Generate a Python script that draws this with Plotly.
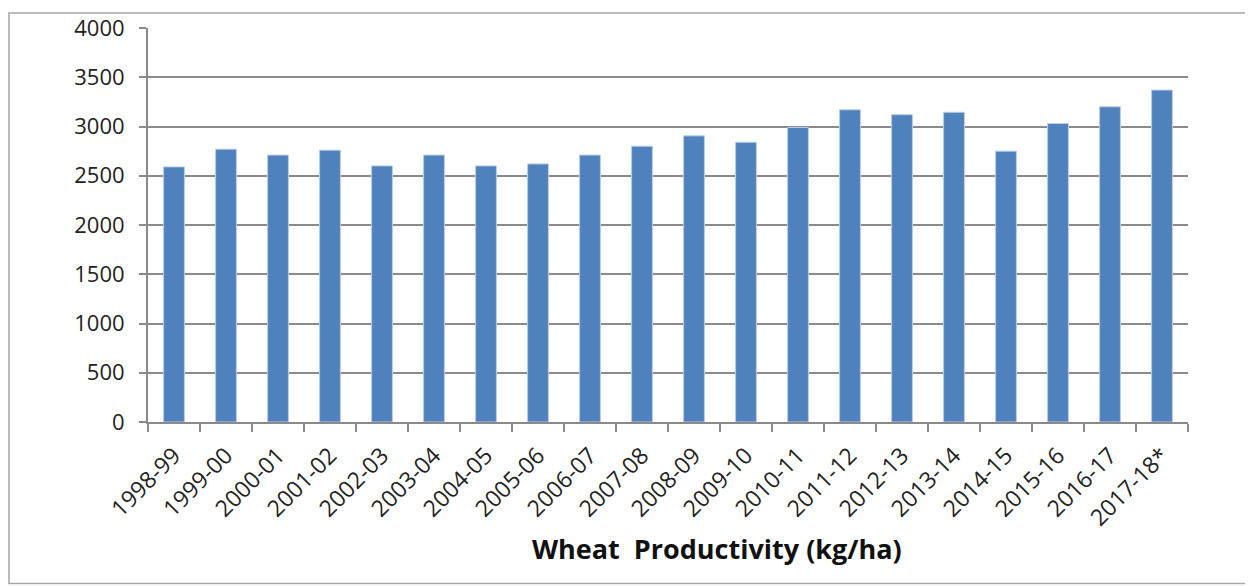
import plotly.graph_objects as go

years = ["1998-99", "1999-00", "2000-01", "2001-02", "2002-03", "2003-04", "2004-05",
         "2005-06", "2006-07", "2007-08", "2008-09", "2009-10", "2010-11", "2011-12",
         "2012-13", "2013-14", "2014-15", "2015-16", "2016-17", "2017-18*"]
productivity = [2590, 2770, 2710, 2760, 2600, 2710, 2600, 2620, 2710, 2800,
                2905, 2840, 2990, 3170, 3120, 3145, 2750, 3030, 3200, 3370]
y_ticks = [0, 500, 1000, 1500, 2000, 2500, 3000, 3500, 4000]

GRID = "#8a8a8a"
FONT = "Open Sans, Liberation Sans, sans-serif"

fig = go.Figure()
fig.add_trace(go.Bar(
    x=years, y=productivity,
    marker=dict(color="#4F81BD", line=dict(color="#B9CDE5", width=1)),
    hoverinfo="x+y"))

# outer chart-area border
fig.add_shape(type="rect", xref="paper", yref="paper",
              x0=-0.1337, x1=1.0577, y0=-0.41, y1=1.038,
              line=dict(color="#a6a6a6", width=1.5), layer="below")

fig.add_annotation(text="<b>Wheat  Productivity (kg/ha)</b>", xref="paper", yref="paper",
                   x=0.547, y=-0.32, showarrow=False, xanchor="center", yanchor="middle",
                   font=dict(size=27, color="#111111", family=FONT))

# page body adds 8px offset, so margins are shifted accordingly
fig.update_layout(
    width=1253, height=586,
    margin=dict(l=140, r=73, t=20, b=172),
    paper_bgcolor="white", plot_bgcolor="white",
    bargap=0.6, showlegend=False,
    font=dict(family=FONT, color="#222222"),
    xaxis=dict(type="category", tickangle=-45, tickfont=dict(size=23), showgrid=False,
               automargin=False, ticklabelstandoff=9,
               showline=True, linecolor=GRID, linewidth=2,
               ticks="outside", tickson="boundaries", ticklen=8, tickcolor=GRID, tickwidth=2),
    yaxis=dict(range=[0, 4000], tickvals=y_ticks, tickfont=dict(size=22),
               automargin=False, ticklabelstandoff=10,
               showgrid=True, gridcolor=GRID, gridwidth=2,
               showline=True, linecolor=GRID, linewidth=2, zeroline=False,
               ticks="outside", ticklen=7, tickcolor=GRID, tickwidth=2),
)

fig.write_html("out.html")
